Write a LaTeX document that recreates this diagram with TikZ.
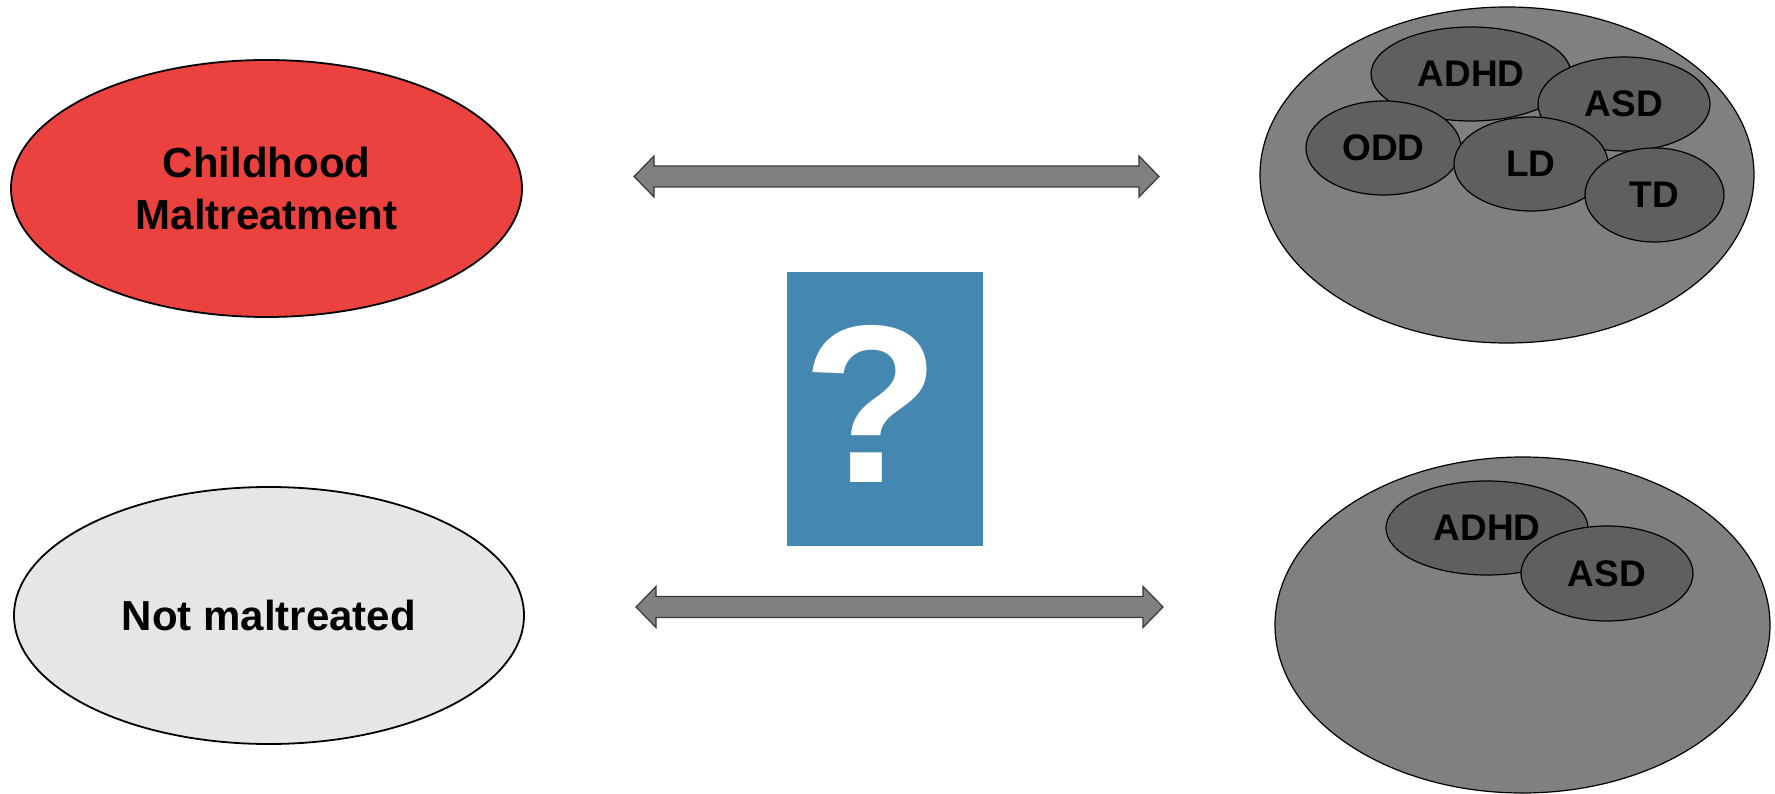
\documentclass[tikz,border=0pt]{standalone}
\usepackage{fontspec}
\setmainfont{Liberation Sans}
\usetikzlibrary{shapes.geometric,calc}
\definecolor{redfill}{HTML}{EC423F}
\definecolor{lightfill}{HTML}{E6E6E6}
\definecolor{bigfill}{HTML}{808080}
\definecolor{smallfill}{HTML}{5F5F5F}
\definecolor{qblue}{HTML}{4487B1}
\definecolor{arrowline}{HTML}{3A3A3A}
\tikzset{
  mainell/.style={ellipse, draw=black, line width=1.8pt, inner sep=0pt,
    font=\fontsize{42}{52}\selectfont\bfseries, align=center},
  bigell/.style={ellipse, draw=black, line width=1.2pt, fill=bigfill, inner sep=0pt},
  smallell/.style={ellipse, draw=black, line width=1.2pt, fill=smallfill, inner sep=0pt,
    font=\fontsize{37}{40}\selectfont\bfseries},
  dblarrow/.style={draw=arrowline, line width=1.2pt, fill=bigfill, line join=miter}
}
\begin{document}
\begin{tikzpicture}[x=1pt,y=-1pt]
\useasboundingbox (0,0) rectangle (1775,794);
% left ellipses
\node[mainell, fill=redfill, minimum width=511pt, minimum height=257pt] (cm) at (266.5,188.5) {Childhood\\Maltreatment};
\node[mainell, fill=lightfill, minimum width=510pt, minimum height=257pt] (nm) at (269,615.5) {Not maltreated};
% right top
\node[bigell, minimum width=494pt, minimum height=336pt] (bigtop) at (1507,175) {};
\node[smallell, minimum width=200pt, minimum height=94pt] (adhd1) at (1471,74) {ADHD};
\node[smallell, minimum width=172pt, minimum height=94pt] (asd1) at (1624,104) {ASD};
\node[smallell, minimum width=155pt, minimum height=94pt] (odd1) at (1383.5,148) {ODD};
\node[smallell, minimum width=154pt, minimum height=94pt] (ld1) at (1531,164) {LD};
\node[smallell, minimum width=139pt, minimum height=94pt] (td1) at (1654.5,195) {TD};
% right bottom
\node[bigell, minimum width=495pt, minimum height=336pt] (bigbot) at (1522.5,625) {};
\node[smallell, minimum width=202pt, minimum height=94pt] (adhd2) at (1487,528) {ADHD};
\node[smallell, minimum width=172pt, minimum height=95pt] (asd2) at (1607,573.5) {ASD};
% question box
\node[fill=qblue, minimum width=196pt, minimum height=274pt, inner sep=0pt] (qbox) at (885,409) {};
\node[text=white, font=\fontsize{225}{225}\selectfont\bfseries, inner sep=0pt, anchor=base] (qmark) at (871,482) {?};
% arrows
\coordinate (t1) at (634,176.5);
\coordinate (t2) at (1159,176.5);
\coordinate (b1) at (636,607);
\coordinate (b2) at (1163,607);
\foreach \l/\r in {t1/t2, b1/b2}{
  \draw[dblarrow] (\l) -- ($(\l)+(20,-20.5)$) -- ($(\l)+(20,-10.5)$) -- ($(\r)+(-20,-10.5)$)
    -- ($(\r)+(-20,-20.5)$) -- (\r) -- ($(\r)+(-20,20.5)$) -- ($(\r)+(-20,10.5)$)
    -- ($(\l)+(20,10.5)$) -- ($(\l)+(20,20.5)$) -- cycle;
}
\end{tikzpicture}
\end{document}
